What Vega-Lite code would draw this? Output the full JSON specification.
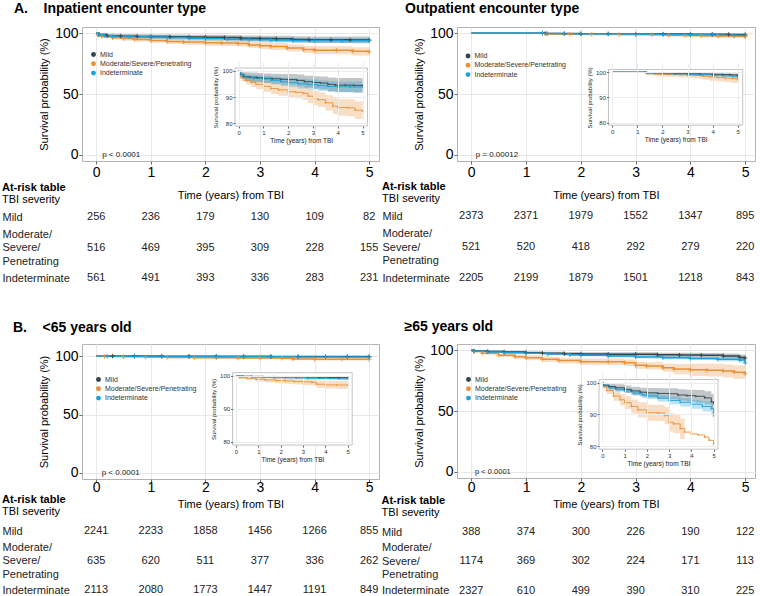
{
"$schema":"https://vega.github.io/schema/vega-lite/v6.json",
"background":"white",
"padding":{"left":2,"top":1,"right":0,"bottom":0},
"config":{"font":"Liberation Sans","view":{"stroke":"#b3b3b3","strokeWidth":1},
"axis":{"domain":false,"labelColor":"black","titleColor":"black","tickColor":"#666","labelFlush":false,"labelOverlap":false,"titleFontWeight":"normal"},
"title":{"color":"black"}},
"datasets":{
"km":[
{"p":"A","g":"Mild","t":0,"s":100,"lo":100,"hi":100},
{"p":"A","g":"Mild","t":0.05,"s":98.6,"lo":97.2,"hi":100},
{"p":"A","g":"Mild","t":0.2,"s":97.7,"lo":96.0,"hi":99.4},
{"p":"A","g":"Mild","t":0.45,"s":97.5,"lo":95.7,"hi":99.3},
{"p":"A","g":"Mild","t":0.75,"s":97.3,"lo":95.5,"hi":99.1},
{"p":"A","g":"Mild","t":1.0,"s":97.1,"lo":95.3,"hi":98.9},
{"p":"A","g":"Mild","t":1.35,"s":96.9,"lo":95.0,"hi":98.8},
{"p":"A","g":"Mild","t":1.7,"s":96.7,"lo":94.7,"hi":98.7},
{"p":"A","g":"Mild","t":2.0,"s":96.6,"lo":94.5,"hi":98.7},
{"p":"A","g":"Mild","t":2.35,"s":96.3,"lo":94.1,"hi":98.5},
{"p":"A","g":"Mild","t":2.65,"s":95.8,"lo":93.5,"hi":98.1},
{"p":"A","g":"Mild","t":3.0,"s":95.5,"lo":93.1,"hi":97.9},
{"p":"A","g":"Mild","t":3.3,"s":95.3,"lo":92.8,"hi":97.8},
{"p":"A","g":"Mild","t":3.6,"s":94.8,"lo":92.2,"hi":97.4},
{"p":"A","g":"Mild","t":3.9,"s":94.5,"lo":91.8,"hi":97.2},
{"p":"A","g":"Mild","t":4.3,"s":94.5,"lo":91.8,"hi":97.2},
{"p":"A","g":"Mild","t":4.65,"s":94.4,"lo":91.6,"hi":97.2},
{"p":"A","g":"Mild","t":5.0,"s":94.4,"lo":91.5,"hi":97.3},
{"p":"A","g":"Mod","t":0,"s":100,"lo":100,"hi":100},
{"p":"A","g":"Mod","t":0.03,"s":98.5,"lo":97.5,"hi":99.5},
{"p":"A","g":"Mod","t":0.1,"s":97.3,"lo":96.0,"hi":98.6},
{"p":"A","g":"Mod","t":0.3,"s":96.2,"lo":94.7,"hi":97.7},
{"p":"A","g":"Mod","t":0.5,"s":95.5,"lo":93.8,"hi":97.2},
{"p":"A","g":"Mod","t":0.7,"s":94.8,"lo":93.0,"hi":96.6},
{"p":"A","g":"Mod","t":1.0,"s":94.0,"lo":92.0,"hi":96.0},
{"p":"A","g":"Mod","t":1.3,"s":93.2,"lo":91.1,"hi":95.3},
{"p":"A","g":"Mod","t":1.6,"s":92.7,"lo":90.5,"hi":94.9},
{"p":"A","g":"Mod","t":2.0,"s":92.0,"lo":89.7,"hi":94.3},
{"p":"A","g":"Mod","t":2.3,"s":91.8,"lo":89.4,"hi":94.2},
{"p":"A","g":"Mod","t":2.6,"s":91.4,"lo":88.9,"hi":93.9},
{"p":"A","g":"Mod","t":2.8,"s":90.3,"lo":87.7,"hi":92.9},
{"p":"A","g":"Mod","t":3.0,"s":89.7,"lo":87.0,"hi":92.4},
{"p":"A","g":"Mod","t":3.2,"s":89.0,"lo":86.2,"hi":91.8},
{"p":"A","g":"Mod","t":3.5,"s":87.8,"lo":84.9,"hi":90.7},
{"p":"A","g":"Mod","t":3.8,"s":86.5,"lo":83.5,"hi":89.5},
{"p":"A","g":"Mod","t":4.0,"s":86.0,"lo":82.9,"hi":89.1},
{"p":"A","g":"Mod","t":4.4,"s":85.9,"lo":82.7,"hi":89.1},
{"p":"A","g":"Mod","t":4.7,"s":85.0,"lo":81.7,"hi":88.3},
{"p":"A","g":"Mod","t":5.0,"s":84.6,"lo":81.6,"hi":88.1},
{"p":"A","g":"Indeterminate","t":0,"s":100,"lo":100,"hi":100},
{"p":"A","g":"Indeterminate","t":0.05,"s":98.8,"lo":97.9,"hi":99.7},
{"p":"A","g":"Indeterminate","t":0.15,"s":97.9,"lo":96.8,"hi":99.0},
{"p":"A","g":"Indeterminate","t":0.3,"s":97.3,"lo":96.1,"hi":98.5},
{"p":"A","g":"Indeterminate","t":0.6,"s":97.0,"lo":95.7,"hi":98.3},
{"p":"A","g":"Indeterminate","t":1.0,"s":96.8,"lo":95.4,"hi":98.2},
{"p":"A","g":"Indeterminate","t":1.3,"s":96.3,"lo":94.8,"hi":97.8},
{"p":"A","g":"Indeterminate","t":1.7,"s":95.8,"lo":94.2,"hi":97.4},
{"p":"A","g":"Indeterminate","t":2.0,"s":95.5,"lo":93.8,"hi":97.2},
{"p":"A","g":"Indeterminate","t":2.4,"s":95.0,"lo":93.2,"hi":96.8},
{"p":"A","g":"Indeterminate","t":2.8,"s":94.7,"lo":92.8,"hi":96.6},
{"p":"A","g":"Indeterminate","t":3.2,"s":94.3,"lo":92.3,"hi":96.3},
{"p":"A","g":"Indeterminate","t":3.6,"s":94.0,"lo":92.0,"hi":96.0},
{"p":"A","g":"Indeterminate","t":4.0,"s":93.9,"lo":91.9,"hi":95.9},
{"p":"A","g":"Indeterminate","t":4.5,"s":93.8,"lo":91.8,"hi":95.9},
{"p":"A","g":"Indeterminate","t":5.0,"s":93.8,"lo":91.7,"hi":95.9},
{"p":"O","g":"Mild","t":0,"s":100,"lo":100,"hi":100},
{"p":"O","g":"Mild","t":1.3,"s":100,"lo":100,"hi":100},
{"p":"O","g":"Mild","t":1.35,"s":99.7,"lo":99.5,"hi":99.9},
{"p":"O","g":"Mild","t":1.7,"s":99.6,"lo":99.4,"hi":99.8},
{"p":"O","g":"Mild","t":2.0,"s":99.5,"lo":99.3,"hi":99.7},
{"p":"O","g":"Mild","t":2.5,"s":99.4,"lo":99.1,"hi":99.7},
{"p":"O","g":"Mild","t":3.0,"s":99.3,"lo":99.0,"hi":99.6},
{"p":"O","g":"Mild","t":3.5,"s":99.2,"lo":98.8,"hi":99.6},
{"p":"O","g":"Mild","t":4.0,"s":99.1,"lo":98.7,"hi":99.5},
{"p":"O","g":"Mild","t":4.4,"s":99.0,"lo":98.5,"hi":99.5},
{"p":"O","g":"Mild","t":4.7,"s":98.9,"lo":98.4,"hi":99.4},
{"p":"O","g":"Mild","t":5.0,"s":98.7,"lo":98.1,"hi":99.3},
{"p":"O","g":"Mod","t":0,"s":100,"lo":100,"hi":100},
{"p":"O","g":"Mod","t":1.3,"s":100,"lo":100,"hi":100},
{"p":"O","g":"Mod","t":1.4,"s":99.3,"lo":98.6,"hi":100},
{"p":"O","g":"Mod","t":1.8,"s":99.1,"lo":98.3,"hi":99.9},
{"p":"O","g":"Mod","t":2.2,"s":99.0,"lo":98.1,"hi":99.9},
{"p":"O","g":"Mod","t":2.7,"s":98.9,"lo":97.9,"hi":99.9},
{"p":"O","g":"Mod","t":3.0,"s":98.8,"lo":97.7,"hi":99.9},
{"p":"O","g":"Mod","t":3.3,"s":98.6,"lo":97.4,"hi":99.8},
{"p":"O","g":"Mod","t":3.6,"s":98.3,"lo":97.0,"hi":99.6},
{"p":"O","g":"Mod","t":3.9,"s":98.0,"lo":96.6,"hi":99.4},
{"p":"O","g":"Mod","t":4.2,"s":97.8,"lo":96.3,"hi":99.3},
{"p":"O","g":"Mod","t":4.5,"s":97.6,"lo":96.0,"hi":99.2},
{"p":"O","g":"Mod","t":4.8,"s":97.4,"lo":95.7,"hi":99.1},
{"p":"O","g":"Mod","t":5.0,"s":97.0,"lo":95.1,"hi":98.9},
{"p":"O","g":"Indeterminate","t":0,"s":100,"lo":100,"hi":100},
{"p":"O","g":"Indeterminate","t":1.3,"s":100,"lo":100,"hi":100},
{"p":"O","g":"Indeterminate","t":1.38,"s":99.6,"lo":99.3,"hi":99.9},
{"p":"O","g":"Indeterminate","t":1.7,"s":99.4,"lo":99.1,"hi":99.7},
{"p":"O","g":"Indeterminate","t":2.0,"s":99.3,"lo":99.0,"hi":99.6},
{"p":"O","g":"Indeterminate","t":2.5,"s":99.2,"lo":98.9,"hi":99.5},
{"p":"O","g":"Indeterminate","t":3.0,"s":99.0,"lo":98.6,"hi":99.4},
{"p":"O","g":"Indeterminate","t":3.5,"s":98.9,"lo":98.5,"hi":99.3},
{"p":"O","g":"Indeterminate","t":4.0,"s":98.7,"lo":98.2,"hi":99.2},
{"p":"O","g":"Indeterminate","t":4.4,"s":98.5,"lo":97.9,"hi":99.1},
{"p":"O","g":"Indeterminate","t":4.8,"s":98.3,"lo":97.6,"hi":99.0},
{"p":"O","g":"Indeterminate","t":5.0,"s":98.0,"lo":97.2,"hi":98.8},
{"p":"Y","g":"Mild","t":0,"s":100,"lo":100,"hi":100},
{"p":"Y","g":"Mild","t":0.3,"s":99.95,"lo":99.85,"hi":100},
{"p":"Y","g":"Mild","t":0.7,"s":99.9,"lo":99.75,"hi":100},
{"p":"Y","g":"Mild","t":1.2,"s":99.85,"lo":99.7,"hi":100},
{"p":"Y","g":"Mild","t":1.7,"s":99.8,"lo":99.6,"hi":100},
{"p":"Y","g":"Mild","t":2.2,"s":99.75,"lo":99.5,"hi":100},
{"p":"Y","g":"Mild","t":2.7,"s":99.7,"lo":99.45,"hi":99.95},
{"p":"Y","g":"Mild","t":3.2,"s":99.65,"lo":99.4,"hi":99.9},
{"p":"Y","g":"Mild","t":3.7,"s":99.6,"lo":99.3,"hi":99.9},
{"p":"Y","g":"Mild","t":4.2,"s":99.55,"lo":99.2,"hi":99.9},
{"p":"Y","g":"Mild","t":4.6,"s":99.5,"lo":99.1,"hi":99.9},
{"p":"Y","g":"Mild","t":5.0,"s":99.5,"lo":99.1,"hi":99.9},
{"p":"Y","g":"Mod","t":0,"s":100,"lo":100,"hi":100},
{"p":"Y","g":"Mod","t":0.15,"s":99.5,"lo":99.0,"hi":100},
{"p":"Y","g":"Mod","t":0.5,"s":99.3,"lo":98.7,"hi":99.9},
{"p":"Y","g":"Mod","t":0.9,"s":99.0,"lo":98.3,"hi":99.7},
{"p":"Y","g":"Mod","t":1.3,"s":98.8,"lo":98.0,"hi":99.6},
{"p":"Y","g":"Mod","t":1.8,"s":98.6,"lo":97.8,"hi":99.4},
{"p":"Y","g":"Mod","t":2.2,"s":98.5,"lo":97.6,"hi":99.4},
{"p":"Y","g":"Mod","t":2.6,"s":98.3,"lo":97.4,"hi":99.2},
{"p":"Y","g":"Mod","t":3.0,"s":98.2,"lo":97.2,"hi":99.2},
{"p":"Y","g":"Mod","t":3.4,"s":98.1,"lo":97.1,"hi":99.1},
{"p":"Y","g":"Mod","t":3.6,"s":97.5,"lo":96.4,"hi":98.6},
{"p":"Y","g":"Mod","t":4.0,"s":97.3,"lo":96.2,"hi":98.4},
{"p":"Y","g":"Mod","t":4.5,"s":97.25,"lo":96.1,"hi":98.4},
{"p":"Y","g":"Mod","t":5.0,"s":97.2,"lo":96.0,"hi":98.4},
{"p":"Y","g":"Indeterminate","t":0,"s":100,"lo":100,"hi":100},
{"p":"Y","g":"Indeterminate","t":0.2,"s":99.85,"lo":99.7,"hi":100},
{"p":"Y","g":"Indeterminate","t":0.7,"s":99.7,"lo":99.5,"hi":99.9},
{"p":"Y","g":"Indeterminate","t":1.2,"s":99.6,"lo":99.4,"hi":99.8},
{"p":"Y","g":"Indeterminate","t":1.7,"s":99.5,"lo":99.25,"hi":99.75},
{"p":"Y","g":"Indeterminate","t":2.2,"s":99.45,"lo":99.2,"hi":99.7},
{"p":"Y","g":"Indeterminate","t":2.7,"s":99.4,"lo":99.1,"hi":99.7},
{"p":"Y","g":"Indeterminate","t":3.2,"s":99.3,"lo":99.0,"hi":99.6},
{"p":"Y","g":"Indeterminate","t":3.7,"s":99.25,"lo":98.9,"hi":99.6},
{"p":"Y","g":"Indeterminate","t":4.2,"s":99.2,"lo":98.85,"hi":99.55},
{"p":"Y","g":"Indeterminate","t":4.6,"s":99.15,"lo":98.8,"hi":99.5},
{"p":"Y","g":"Indeterminate","t":5.0,"s":99.1,"lo":98.7,"hi":99.5},
{"p":"E","g":"Mild","t":0,"s":100,"lo":100,"hi":100},
{"p":"E","g":"Mild","t":0.05,"s":99.2,"lo":98.5,"hi":99.9},
{"p":"E","g":"Mild","t":0.3,"s":98.8,"lo":97.8,"hi":99.8},
{"p":"E","g":"Mild","t":0.6,"s":98.4,"lo":97.3,"hi":99.5},
{"p":"E","g":"Mild","t":1.0,"s":97.9,"lo":96.7,"hi":99.1},
{"p":"E","g":"Mild","t":1.3,"s":97.4,"lo":96.1,"hi":98.7},
{"p":"E","g":"Mild","t":1.7,"s":97.0,"lo":95.6,"hi":98.4},
{"p":"E","g":"Mild","t":2.0,"s":96.8,"lo":95.3,"hi":98.3},
{"p":"E","g":"Mild","t":2.5,"s":96.6,"lo":95.0,"hi":98.2},
{"p":"E","g":"Mild","t":3.0,"s":96.5,"lo":94.8,"hi":98.2},
{"p":"E","g":"Mild","t":3.4,"s":96.1,"lo":94.3,"hi":97.9},
{"p":"E","g":"Mild","t":3.8,"s":95.9,"lo":94.0,"hi":97.8},
{"p":"E","g":"Mild","t":4.2,"s":95.7,"lo":93.7,"hi":97.7},
{"p":"E","g":"Mild","t":4.6,"s":95.2,"lo":93.1,"hi":97.3},
{"p":"E","g":"Mild","t":4.9,"s":94.0,"lo":91.6,"hi":96.4},
{"p":"E","g":"Mild","t":5.0,"s":93.5,"lo":90.8,"hi":96.2},
{"p":"E","g":"Mod","t":0,"s":100,"lo":100,"hi":100},
{"p":"E","g":"Mod","t":0.05,"s":98.8,"lo":98.1,"hi":99.5},
{"p":"E","g":"Mod","t":0.2,"s":97.5,"lo":96.4,"hi":98.6},
{"p":"E","g":"Mod","t":0.5,"s":95.8,"lo":94.3,"hi":97.3},
{"p":"E","g":"Mod","t":0.8,"s":94.6,"lo":92.8,"hi":96.4},
{"p":"E","g":"Mod","t":1.0,"s":93.7,"lo":91.7,"hi":95.7},
{"p":"E","g":"Mod","t":1.3,"s":92.5,"lo":90.3,"hi":94.7},
{"p":"E","g":"Mod","t":1.6,"s":91.4,"lo":89.0,"hi":93.8},
{"p":"E","g":"Mod","t":2.0,"s":90.5,"lo":88.0,"hi":93.0},
{"p":"E","g":"Mod","t":2.5,"s":90.4,"lo":87.8,"hi":93.0},
{"p":"E","g":"Mod","t":2.8,"s":89.6,"lo":86.9,"hi":92.3},
{"p":"E","g":"Mod","t":3.0,"s":87.5,"lo":84.6,"hi":90.4},
{"p":"E","g":"Mod","t":3.2,"s":87.0,"lo":84.0,"hi":90.0},
{"p":"E","g":"Mod","t":3.5,"s":85.5,"lo":82.3,"hi":88.7},
{"p":"E","g":"Mod","t":3.7,"s":84.4,"lo":80.2,"hi":88.6},
{"p":"E","g":"Mod","t":4.0,"s":83.8,"lo":78.8,"hi":88.8},
{"p":"E","g":"Mod","t":4.3,"s":83.5,"lo":78.3,"hi":88.7},
{"p":"E","g":"Mod","t":4.6,"s":82.8,"lo":77.4,"hi":88.2},
{"p":"E","g":"Mod","t":4.8,"s":81.8,"lo":76.2,"hi":87.4},
{"p":"E","g":"Mod","t":5.0,"s":80.6,"lo":75.0,"hi":86.2},
{"p":"E","g":"Indeterminate","t":0,"s":100,"lo":100,"hi":100},
{"p":"E","g":"Indeterminate","t":0.05,"s":99.0,"lo":98.6,"hi":99.4},
{"p":"E","g":"Indeterminate","t":0.3,"s":98.4,"lo":97.9,"hi":98.9},
{"p":"E","g":"Indeterminate","t":0.6,"s":97.9,"lo":97.3,"hi":98.5},
{"p":"E","g":"Indeterminate","t":1.0,"s":97.4,"lo":96.7,"hi":98.1},
{"p":"E","g":"Indeterminate","t":1.4,"s":96.7,"lo":95.9,"hi":97.5},
{"p":"E","g":"Indeterminate","t":1.8,"s":96.1,"lo":95.2,"hi":97.0},
{"p":"E","g":"Indeterminate","t":2.0,"s":95.8,"lo":94.8,"hi":96.8},
{"p":"E","g":"Indeterminate","t":2.5,"s":95.1,"lo":94.0,"hi":96.2},
{"p":"E","g":"Indeterminate","t":3.0,"s":94.4,"lo":93.2,"hi":95.6},
{"p":"E","g":"Indeterminate","t":3.5,"s":93.8,"lo":92.5,"hi":95.1},
{"p":"E","g":"Indeterminate","t":4.0,"s":93.2,"lo":91.8,"hi":94.6},
{"p":"E","g":"Indeterminate","t":4.5,"s":92.5,"lo":90.9,"hi":94.1},
{"p":"E","g":"Indeterminate","t":4.9,"s":91.8,"lo":90.0,"hi":93.6},
{"p":"E","g":"Indeterminate","t":5.0,"s":89.5,"lo":86.5,"hi":92.5}
],
"risk":[
{"p":"A","g":"Mild","t":0,"n":256},{"p":"A","g":"Mild","t":1,"n":236},{"p":"A","g":"Mild","t":2,"n":179},{"p":"A","g":"Mild","t":3,"n":130},{"p":"A","g":"Mild","t":4,"n":109},{"p":"A","g":"Mild","t":5,"n":82},
{"p":"A","g":"Mod","t":0,"n":516},{"p":"A","g":"Mod","t":1,"n":469},{"p":"A","g":"Mod","t":2,"n":395},{"p":"A","g":"Mod","t":3,"n":309},{"p":"A","g":"Mod","t":4,"n":228},{"p":"A","g":"Mod","t":5,"n":155},
{"p":"A","g":"Indeterminate","t":0,"n":561},{"p":"A","g":"Indeterminate","t":1,"n":491},{"p":"A","g":"Indeterminate","t":2,"n":393},{"p":"A","g":"Indeterminate","t":3,"n":336},{"p":"A","g":"Indeterminate","t":4,"n":283},{"p":"A","g":"Indeterminate","t":5,"n":231},
{"p":"O","g":"Mild","t":0,"n":2373},{"p":"O","g":"Mild","t":1,"n":2371},{"p":"O","g":"Mild","t":2,"n":1979},{"p":"O","g":"Mild","t":3,"n":1552},{"p":"O","g":"Mild","t":4,"n":1347},{"p":"O","g":"Mild","t":5,"n":895},
{"p":"O","g":"Mod","t":0,"n":521},{"p":"O","g":"Mod","t":1,"n":520},{"p":"O","g":"Mod","t":2,"n":418},{"p":"O","g":"Mod","t":3,"n":292},{"p":"O","g":"Mod","t":4,"n":279},{"p":"O","g":"Mod","t":5,"n":220},
{"p":"O","g":"Indeterminate","t":0,"n":2205},{"p":"O","g":"Indeterminate","t":1,"n":2199},{"p":"O","g":"Indeterminate","t":2,"n":1879},{"p":"O","g":"Indeterminate","t":3,"n":1501},{"p":"O","g":"Indeterminate","t":4,"n":1218},{"p":"O","g":"Indeterminate","t":5,"n":843},
{"p":"Y","g":"Mild","t":0,"n":2241},{"p":"Y","g":"Mild","t":1,"n":2233},{"p":"Y","g":"Mild","t":2,"n":1858},{"p":"Y","g":"Mild","t":3,"n":1456},{"p":"Y","g":"Mild","t":4,"n":1266},{"p":"Y","g":"Mild","t":5,"n":855},
{"p":"Y","g":"Mod","t":0,"n":635},{"p":"Y","g":"Mod","t":1,"n":620},{"p":"Y","g":"Mod","t":2,"n":511},{"p":"Y","g":"Mod","t":3,"n":377},{"p":"Y","g":"Mod","t":4,"n":336},{"p":"Y","g":"Mod","t":5,"n":262},
{"p":"Y","g":"Indeterminate","t":0,"n":2113},{"p":"Y","g":"Indeterminate","t":1,"n":2080},{"p":"Y","g":"Indeterminate","t":2,"n":1773},{"p":"Y","g":"Indeterminate","t":3,"n":1447},{"p":"Y","g":"Indeterminate","t":4,"n":1191},{"p":"Y","g":"Indeterminate","t":5,"n":849},
{"p":"E","g":"Mild","t":0,"n":388},{"p":"E","g":"Mild","t":1,"n":374},{"p":"E","g":"Mild","t":2,"n":300},{"p":"E","g":"Mild","t":3,"n":226},{"p":"E","g":"Mild","t":4,"n":190},{"p":"E","g":"Mild","t":5,"n":122},
{"p":"E","g":"Mod","t":0,"n":1174},{"p":"E","g":"Mod","t":1,"n":369},{"p":"E","g":"Mod","t":2,"n":302},{"p":"E","g":"Mod","t":3,"n":224},{"p":"E","g":"Mod","t":4,"n":171},{"p":"E","g":"Mod","t":5,"n":113},
{"p":"E","g":"Indeterminate","t":0,"n":2327},{"p":"E","g":"Indeterminate","t":1,"n":610},{"p":"E","g":"Indeterminate","t":2,"n":499},{"p":"E","g":"Indeterminate","t":3,"n":390},{"p":"E","g":"Indeterminate","t":4,"n":310},{"p":"E","g":"Indeterminate","t":5,"n":225}
]},
"columns":2,
"bounds":"flush",
"align":"each",
"spacing":{"row":52,"column":78},
"resolve":{"scale":{"fill":"independent","stroke":"independent"},"legend":{"fill":"independent","stroke":"independent"}},
"concat":[
  {"width":297,"height":134,
   "title":{"text":"A.\u00a0\u00a0\u00a0\u00a0Inpatient encounter type","anchor":"start","frame":"group","dx":-68,"offset":10,"fontSize":14,"fontWeight":"bold"},
   "layer":[
    {"data":{"name":"km"},"transform":[{"filter":"datum.p == 'A'"}],
     "layer":[
      {"mark":{"type":"area","interpolate":"step-after","fillOpacity":0.3},
       "encoding":{
        "x":{"field":"t","type":"quantitative","title":"Time (years) from TBI","scale":{"domain":[-0.26,5.18],"nice":false,"zero":false},
             "axis":{"values":[0,0.5,1,1.5,2,2.5,3,3.5,4,4.5,5],"labelExpr":"datum.value % 1 == 0 ? datum.label : ''","format":"d","grid":true,"gridColor":{"condition":{"test":"datum.value % 1 != 0","value":"#f4f4f4"},"value":"#e8e8e8"},"tickOpacity":{"condition":{"test":"datum.value % 1 != 0","value":0},"value":1},"tickSize":3,"labelFontSize":14,"labelPadding":1,"titleFontSize":11,"titlePadding":10}},
        "y":{"field":"lo","type":"quantitative","title":"Survival probability (%)","scale":{"domain":[-5,105],"nice":false,"zero":false},
             "axis":{"values":[0,12.5,25,37.5,50,62.5,75,87.5,100],"labelExpr":"datum.value % 25 == 0 ? datum.label : ''","format":"d","grid":true,"gridColor":{"condition":{"test":"datum.value % 25 != 0","value":"#f4f4f4"},"value":"#e8e8e8"},"tickOpacity":{"condition":{"test":"datum.value % 25 != 0","value":0},"value":1},"tickSize":3,"labelFontSize":14,"labelPadding":1,"titleFontSize":11,"titlePadding":5}},
        "y2":{"field":"hi"},
        "fill":{"field":"g","type":"nominal","scale":{"domain":["Mild","Mod","Indeterminate"],"range":["#34434c","#e8913b","#1ba1db"]},
                "legend":{"orient":"none","legendX":8,"legendY":24,"title":null,"symbolType":"circle","symbolSize":24,"symbolOpacity":1,"symbolStrokeWidth":0,"labelFontSize":7,"labelColor":"#333","rowPadding":1.3,"labelOffset":3,"padding":0,"labelExpr":"datum.label == 'Mod' ? 'Moderate/Severe/Penetrating' : datum.label"}}}},
      {"mark":{"type":"line","interpolate":"step-after","strokeWidth":1.5},
       "encoding":{"x":{"field":"t","type":"quantitative","title":"Time (years) from TBI","scale":{"domain":[-0.26,5.18],"nice":false,"zero":false}},
        "y":{"field":"s","type":"quantitative","title":"Survival probability (%)","scale":{"domain":[-5,105],"nice":false,"zero":false}},
        "stroke":{"field":"g","type":"nominal","scale":{"domain":["Mild","Mod","Indeterminate"],"range":["#34434c","#e8913b","#1ba1db"]},"legend":null}}},
      {"transform":[{"filter":"datum.t > 0"}],"mark":{"type":"point","shape":"M-1,0L1,0M0,-1L0,1","filled":false,"size":20,"strokeWidth":0.9,"opacity":1},
       "encoding":{"x":{"field":"t","type":"quantitative","title":"Time (years) from TBI"},"y":{"field":"s","type":"quantitative","title":"Survival probability (%)"},"stroke":{"field":"g","type":"nominal","legend":null}}},
      {"data":{"values":[{"lab":"p < 0.0001"}]},"mark":{"type":"text","align":"left","baseline":"middle","fontSize":8,"color":"#222"},
       "encoding":{"x":{"datum":0.11},"y":{"datum":0},"text":{"field":"lab"}}}
     ]},
    {"data":{"name":"km"},"transform":[{"filter":"datum.p == 'A'"}],
     "layer":[
      {"data":{"values":[{}]},"mark":{"type":"rect","fill":"white","stroke":"#b3b3b3","strokeWidth":0.8},
       "encoding":{"x":{"datum":-0.15,"scale":{"domain":[-0.15,5.2],"nice":false,"zero":false,"range":[153,285.5]},
          "axis":{"orient":"bottom","offset":-35,"title":"Time (years) from TBI","values":[0,1,2,3,4,5],"format":"d","grid":true,"gridColor":"#ececec","tickSize":2,"labelFontSize":6,"labelPadding":1,"titleFontSize":6.5,"titlePadding":2,"zindex":1,"labelColor":"#333","titleColor":"#222"}},
        "x2":{"datum":5.2},
        "y":{"datum":79,"scale":{"domain":[79,101],"nice":false,"zero":false,"range":[99,41]},
          "axis":{"orient":"left","offset":-153,"title":"Survival probability (%)","values":[80,85,90,95,100],"format":"d","grid":true,"gridColor":"#ececec","tickSize":2,"labelFontSize":6,"labelPadding":1,"titleFontSize":6,"titlePadding":3,"zindex":1,"labelColor":"#333","titleColor":"#222"}},
        "y2":{"datum":101}}},
      {"transform":[{"filter":"datum.lo >= 79"}],"mark":{"type":"area","interpolate":"step-after","fillOpacity":0.3},
       "encoding":{"x":{"field":"t","type":"quantitative","title":"Time (years) from TBI"},"y":{"field":"lo","type":"quantitative","title":"Survival probability (%)"},"y2":{"field":"hi"},"fill":{"field":"g","type":"nominal","legend":null}}},
      {"mark":{"type":"line","interpolate":"step-after","strokeWidth":0.9},
       "encoding":{"x":{"field":"t","type":"quantitative","title":"Time (years) from TBI"},"y":{"field":"s","type":"quantitative","title":"Survival probability (%)"},"stroke":{"field":"g","type":"nominal","legend":null}}},
      {"transform":[{"filter":"datum.t > 0"}],"mark":{"type":"point","shape":"M-1,0L1,0M0,-1L0,1","filled":false,"size":5,"strokeWidth":0.5,"opacity":1},
       "encoding":{"x":{"field":"t","type":"quantitative","title":"Time (years) from TBI"},"y":{"field":"s","type":"quantitative","title":"Survival probability (%)"},"stroke":{"field":"g","type":"nominal","legend":null}}}
     ]}
   ],
   "resolve":{"scale":{"x":"independent","y":"independent"},"axis":{"x":"independent","y":"independent"}}},
  {"width":298,"height":134,
   "title":{"text":"Outpatient encounter type","anchor":"start","frame":"group","dx":-52,"offset":10,"fontSize":14,"fontWeight":"bold"},
   "layer":[
    {"data":{"name":"km"},"transform":[{"filter":"datum.p == 'O'"}],
     "layer":[
      {"mark":{"type":"area","interpolate":"step-after","fillOpacity":0.3},
       "encoding":{
        "x":{"field":"t","type":"quantitative","title":"Time (years) from TBI","scale":{"domain":[-0.26,5.18],"nice":false,"zero":false},
             "axis":{"values":[0,0.5,1,1.5,2,2.5,3,3.5,4,4.5,5],"labelExpr":"datum.value % 1 == 0 ? datum.label : ''","format":"d","grid":true,"gridColor":{"condition":{"test":"datum.value % 1 != 0","value":"#f4f4f4"},"value":"#e8e8e8"},"tickOpacity":{"condition":{"test":"datum.value % 1 != 0","value":0},"value":1},"tickSize":3,"labelFontSize":14,"labelPadding":1,"titleFontSize":11,"titlePadding":10}},
        "y":{"field":"lo","type":"quantitative","title":"Survival probability (%)","scale":{"domain":[-5,105],"nice":false,"zero":false},
             "axis":{"values":[0,12.5,25,37.5,50,62.5,75,87.5,100],"labelExpr":"datum.value % 25 == 0 ? datum.label : ''","format":"d","grid":true,"gridColor":{"condition":{"test":"datum.value % 25 != 0","value":"#f4f4f4"},"value":"#e8e8e8"},"tickOpacity":{"condition":{"test":"datum.value % 25 != 0","value":0},"value":1},"tickSize":3,"labelFontSize":14,"labelPadding":1,"titleFontSize":11,"titlePadding":5}},
        "y2":{"field":"hi"},
        "fill":{"field":"g","type":"nominal","scale":{"domain":["Mild","Mod","Indeterminate"],"range":["#34434c","#e8913b","#1ba1db"]},
                "legend":{"orient":"none","legendX":7.5,"legendY":25.5,"title":null,"symbolType":"circle","symbolSize":24,"symbolOpacity":1,"symbolStrokeWidth":0,"labelFontSize":7,"labelColor":"#333","rowPadding":1.3,"labelOffset":3,"padding":0,"labelExpr":"datum.label == 'Mod' ? 'Moderate/Severe/Penetrating' : datum.label"}}}},
      {"mark":{"type":"line","interpolate":"step-after","strokeWidth":1.5},
       "encoding":{"x":{"field":"t","type":"quantitative","title":"Time (years) from TBI","scale":{"domain":[-0.26,5.18],"nice":false,"zero":false}},
        "y":{"field":"s","type":"quantitative","title":"Survival probability (%)","scale":{"domain":[-5,105],"nice":false,"zero":false}},
        "stroke":{"field":"g","type":"nominal","scale":{"domain":["Mild","Mod","Indeterminate"],"range":["#34434c","#e8913b","#1ba1db"]},"legend":null}}},
      {"transform":[{"filter":"datum.t > 0"}],"mark":{"type":"point","shape":"M-1,0L1,0M0,-1L0,1","filled":false,"size":20,"strokeWidth":0.9,"opacity":1},
       "encoding":{"x":{"field":"t","type":"quantitative","title":"Time (years) from TBI"},"y":{"field":"s","type":"quantitative","title":"Survival probability (%)"},"stroke":{"field":"g","type":"nominal","legend":null}}},
      {"data":{"values":[{"lab":"p = 0.00012"}]},"mark":{"type":"text","align":"left","baseline":"middle","fontSize":8,"color":"#222"},
       "encoding":{"x":{"datum":0.08},"y":{"datum":0},"text":{"field":"lab"}}}
     ]},
    {"data":{"name":"km"},"transform":[{"filter":"datum.p == 'O'"}],
     "layer":[
      {"data":{"values":[{}]},"mark":{"type":"rect","fill":"white","stroke":"#b3b3b3","strokeWidth":0.8},
       "encoding":{"x":{"datum":-0.15,"scale":{"domain":[-0.15,5.2],"nice":false,"zero":false,"range":[151.5,285.7]},
          "axis":{"orient":"bottom","offset":-35.8,"title":"Time (years) from TBI","values":[0,1,2,3,4,5],"format":"d","grid":true,"gridColor":"#ececec","tickSize":2,"labelFontSize":6,"labelPadding":1,"titleFontSize":6.5,"titlePadding":2,"zindex":1,"labelColor":"#333","titleColor":"#222"}},
        "x2":{"datum":5.2},
        "y":{"datum":79,"scale":{"domain":[79,101],"nice":false,"zero":false,"range":[98.2,42.5]},
          "axis":{"orient":"left","offset":-151.5,"title":"Survival probability (%)","values":[80,85,90,95,100],"format":"d","grid":true,"gridColor":"#ececec","tickSize":2,"labelFontSize":6,"labelPadding":1,"titleFontSize":6,"titlePadding":3,"zindex":1,"labelColor":"#333","titleColor":"#222"}},
        "y2":{"datum":101}}},
      {"transform":[{"filter":"datum.lo >= 79"}],"mark":{"type":"area","interpolate":"step-after","fillOpacity":0.3},
       "encoding":{"x":{"field":"t","type":"quantitative","title":"Time (years) from TBI"},"y":{"field":"lo","type":"quantitative","title":"Survival probability (%)"},"y2":{"field":"hi"},"fill":{"field":"g","type":"nominal","legend":null}}},
      {"mark":{"type":"line","interpolate":"step-after","strokeWidth":0.9},
       "encoding":{"x":{"field":"t","type":"quantitative","title":"Time (years) from TBI"},"y":{"field":"s","type":"quantitative","title":"Survival probability (%)"},"stroke":{"field":"g","type":"nominal","legend":null}}},
      {"transform":[{"filter":"datum.t > 0"}],"mark":{"type":"point","shape":"M-1,0L1,0M0,-1L0,1","filled":false,"size":5,"strokeWidth":0.5,"opacity":1},
       "encoding":{"x":{"field":"t","type":"quantitative","title":"Time (years) from TBI"},"y":{"field":"s","type":"quantitative","title":"Survival probability (%)"},"stroke":{"field":"g","type":"nominal","legend":null}}}
     ]}
   ],
   "resolve":{"scale":{"x":"independent","y":"independent"},"axis":{"x":"independent","y":"independent"}}},
  {"width":297,"height":79,"view":{"stroke":null},
   "data":{"name":"risk"},"transform":[{"filter":"datum.p == 'A'"}],
   "title":{"text":"At-risk table","subtitle":"TBI severity","anchor":"start","frame":"group","dx":-80,"offset":6,"fontSize":11,"fontWeight":"bold","subtitleFontSize":11,"subtitleFontWeight":"normal","subtitleColor":"black","subtitlePadding":1},
   "mark":{"type":"text","fontSize":11,"color":"#222"},
   "encoding":{"x":{"field":"t","type":"quantitative","scale":{"domain":[-0.26,5.18],"nice":false,"zero":false},"axis":null},
    "y":{"field":"g","type":"nominal","scale":{"domain":["Mild","Mod","Indeterminate"],"padding":0,"range":[4,65]},
     "axis":{"title":null,"labelAlign":"left","labelPadding":80,"ticks":false,"tickSize":0,"domain":false,"grid":false,"labelFontSize":11,"labelColor":"#222","labelBaseline":"middle","labelLineHeight":13.5,"labelOffset":{"condition":{"test":"datum.value == 'Mod'","value":-13.5},"value":0},"labelExpr":"datum.label == 'Mod' ? ['Moderate/', 'Severe/', 'Penetrating'] : datum.label"}},
    "text":{"field":"n"}}},
  {"width":298,"height":79,"view":{"stroke":null},
   "data":{"name":"risk"},"transform":[{"filter":"datum.p == 'O'"}],
   "title":{"text":"At-risk table","subtitle":"TBI severity","anchor":"start","frame":"group","dx":-75,"offset":6,"fontSize":11,"fontWeight":"bold","subtitleFontSize":11,"subtitleFontWeight":"normal","subtitleColor":"black","subtitlePadding":1},
   "mark":{"type":"text","fontSize":11,"color":"#222"},
   "encoding":{"x":{"field":"t","type":"quantitative","scale":{"domain":[-0.26,5.18],"nice":false,"zero":false},"axis":null},
    "y":{"field":"g","type":"nominal","scale":{"domain":["Mild","Mod","Indeterminate"],"padding":0,"range":[3,65]},
     "axis":{"title":null,"labelAlign":"left","labelPadding":75,"ticks":false,"tickSize":0,"domain":false,"grid":false,"labelFontSize":11,"labelColor":"#222","labelBaseline":"middle","labelLineHeight":13.5,"labelOffset":{"condition":{"test":"datum.value == 'Mod'","value":-13.5},"value":0},"labelExpr":"datum.label == 'Mod' ? ['Moderate/', 'Severe/', 'Penetrating'] : datum.label"}},
    "text":{"field":"n"}}},
  {"width":297,"height":135,
   "title":{"text":"B.\u00a0\u00a0\u00a0\u00a0<65 years old","anchor":"start","frame":"group","dx":-69,"offset":9,"fontSize":14,"fontWeight":"bold"},
   "layer":[
    {"data":{"name":"km"},"transform":[{"filter":"datum.p == 'Y'"}],
     "layer":[
      {"mark":{"type":"area","interpolate":"step-after","fillOpacity":0.3},
       "encoding":{
        "x":{"field":"t","type":"quantitative","title":"Time (years) from TBI","scale":{"domain":[-0.26,5.18],"nice":false,"zero":false},
             "axis":{"values":[0,0.5,1,1.5,2,2.5,3,3.5,4,4.5,5],"labelExpr":"datum.value % 1 == 0 ? datum.label : ''","format":"d","grid":true,"gridColor":{"condition":{"test":"datum.value % 1 != 0","value":"#f4f4f4"},"value":"#e8e8e8"},"tickOpacity":{"condition":{"test":"datum.value % 1 != 0","value":0},"value":1},"tickSize":3,"labelFontSize":14,"labelPadding":-2,"titleFontSize":11,"titlePadding":4}},
        "y":{"field":"lo","type":"quantitative","title":"Survival probability (%)","scale":{"domain":[-5.13,110.26],"nice":false,"zero":false},
             "axis":{"values":[0,12.5,25,37.5,50,62.5,75,87.5,100],"labelExpr":"datum.value % 25 == 0 ? datum.label : ''","format":"d","grid":true,"gridColor":{"condition":{"test":"datum.value % 25 != 0","value":"#f4f4f4"},"value":"#e8e8e8"},"tickOpacity":{"condition":{"test":"datum.value % 25 != 0","value":0},"value":1},"tickSize":3,"labelFontSize":14,"labelPadding":1,"titleFontSize":11,"titlePadding":5}},
        "y2":{"field":"hi"},
        "fill":{"field":"g","type":"nominal","scale":{"domain":["Mild","Mod","Indeterminate"],"range":["#34434c","#e8913b","#1ba1db"]},
                "legend":{"orient":"none","legendX":13,"legendY":32,"title":null,"symbolType":"circle","symbolSize":24,"symbolOpacity":1,"symbolStrokeWidth":0,"labelFontSize":7,"labelColor":"#333","rowPadding":1.3,"labelOffset":3,"padding":0,"labelExpr":"datum.label == 'Mod' ? 'Moderate/Severe/Penetrating' : datum.label"}}}},
      {"mark":{"type":"line","interpolate":"step-after","strokeWidth":1.5},
       "encoding":{"x":{"field":"t","type":"quantitative","title":"Time (years) from TBI","scale":{"domain":[-0.26,5.18],"nice":false,"zero":false}},
        "y":{"field":"s","type":"quantitative","title":"Survival probability (%)","scale":{"domain":[-5.13,110.26],"nice":false,"zero":false}},
        "stroke":{"field":"g","type":"nominal","scale":{"domain":["Mild","Mod","Indeterminate"],"range":["#34434c","#e8913b","#1ba1db"]},"legend":null}}},
      {"transform":[{"filter":"datum.t > 0"}],"mark":{"type":"point","shape":"M-1,0L1,0M0,-1L0,1","filled":false,"size":20,"strokeWidth":0.9,"opacity":1},
       "encoding":{"x":{"field":"t","type":"quantitative","title":"Time (years) from TBI"},"y":{"field":"s","type":"quantitative","title":"Survival probability (%)"},"stroke":{"field":"g","type":"nominal","legend":null}}},
      {"data":{"values":[{"lab":"p < 0.0001"}]},"mark":{"type":"text","align":"left","baseline":"middle","fontSize":8,"color":"#222"},
       "encoding":{"x":{"datum":0.1},"y":{"datum":0},"text":{"field":"lab"}}}
     ]},
    {"data":{"name":"km"},"transform":[{"filter":"datum.p == 'Y'"}],
     "layer":[
      {"data":{"values":[{}]},"mark":{"type":"rect","fill":"white","stroke":"#b3b3b3","strokeWidth":0.8},
       "encoding":{"x":{"datum":-0.15,"scale":{"domain":[-0.15,5.2],"nice":false,"zero":false,"range":[150.6,270.2]},
          "axis":{"orient":"bottom","offset":-34,"title":"Time (years) from TBI","values":[0,1,2,3,4,5],"format":"d","grid":true,"gridColor":"#ececec","tickSize":2,"labelFontSize":6,"labelPadding":1,"titleFontSize":6.5,"titlePadding":2,"zindex":1,"labelColor":"#333","titleColor":"#222"}},
        "x2":{"datum":5.2},
        "y":{"datum":79,"scale":{"domain":[79,101],"nice":false,"zero":false,"range":[101,28.7]},
          "axis":{"orient":"left","offset":-150.6,"title":"Survival probability (%)","values":[80,85,90,95,100],"format":"d","grid":true,"gridColor":"#ececec","tickSize":2,"labelFontSize":6,"labelPadding":1,"titleFontSize":6,"titlePadding":3,"zindex":1,"labelColor":"#333","titleColor":"#222"}},
        "y2":{"datum":101}}},
      {"transform":[{"filter":"datum.lo >= 79"}],"mark":{"type":"area","interpolate":"step-after","fillOpacity":0.3},
       "encoding":{"x":{"field":"t","type":"quantitative","title":"Time (years) from TBI"},"y":{"field":"lo","type":"quantitative","title":"Survival probability (%)"},"y2":{"field":"hi"},"fill":{"field":"g","type":"nominal","legend":null}}},
      {"mark":{"type":"line","interpolate":"step-after","strokeWidth":0.9},
       "encoding":{"x":{"field":"t","type":"quantitative","title":"Time (years) from TBI"},"y":{"field":"s","type":"quantitative","title":"Survival probability (%)"},"stroke":{"field":"g","type":"nominal","legend":null}}},
      {"transform":[{"filter":"datum.t > 0"}],"mark":{"type":"point","shape":"M-1,0L1,0M0,-1L0,1","filled":false,"size":5,"strokeWidth":0.5,"opacity":1},
       "encoding":{"x":{"field":"t","type":"quantitative","title":"Time (years) from TBI"},"y":{"field":"s","type":"quantitative","title":"Survival probability (%)"},"stroke":{"field":"g","type":"nominal","legend":null}}}
     ]}
   ],
   "resolve":{"scale":{"x":"independent","y":"independent"},"axis":{"x":"independent","y":"independent"}}},
  {"width":298,"height":134,
   "title":{"text":"≥65 years old","anchor":"start","frame":"group","dx":-52.5,"offset":9,"fontSize":14,"fontWeight":"bold"},
   "layer":[
    {"data":{"name":"km"},"transform":[{"filter":"datum.p == 'E'"}],
     "layer":[
      {"mark":{"type":"area","interpolate":"step-after","fillOpacity":0.3},
       "encoding":{
        "x":{"field":"t","type":"quantitative","title":"Time (years) from TBI","scale":{"domain":[-0.26,5.18],"nice":false,"zero":false},
             "axis":{"values":[0,0.5,1,1.5,2,2.5,3,3.5,4,4.5,5],"labelExpr":"datum.value % 1 == 0 ? datum.label : ''","format":"d","grid":true,"gridColor":{"condition":{"test":"datum.value % 1 != 0","value":"#f4f4f4"},"value":"#e8e8e8"},"tickOpacity":{"condition":{"test":"datum.value % 1 != 0","value":0},"value":1},"tickSize":3,"labelFontSize":14,"labelPadding":-1,"titleFontSize":11,"titlePadding":4}},
        "y":{"field":"lo","type":"quantitative","title":"Survival probability (%)","scale":{"domain":[-5,105],"nice":false,"zero":false},
             "axis":{"values":[0,12.5,25,37.5,50,62.5,75,87.5,100],"labelExpr":"datum.value % 25 == 0 ? datum.label : ''","format":"d","grid":true,"gridColor":{"condition":{"test":"datum.value % 25 != 0","value":"#f4f4f4"},"value":"#e8e8e8"},"tickOpacity":{"condition":{"test":"datum.value % 25 != 0","value":0},"value":1},"tickSize":3,"labelFontSize":14,"labelPadding":1,"titleFontSize":11,"titlePadding":5}},
        "y2":{"field":"hi"},
        "fill":{"field":"g","type":"nominal","scale":{"domain":["Mild","Mod","Indeterminate"],"range":["#34434c","#e8913b","#1ba1db"]},
                "legend":{"orient":"none","legendX":8,"legendY":32,"title":null,"symbolType":"circle","symbolSize":24,"symbolOpacity":1,"symbolStrokeWidth":0,"labelFontSize":7,"labelColor":"#333","rowPadding":1.3,"labelOffset":3,"padding":0,"labelExpr":"datum.label == 'Mod' ? 'Moderate/Severe/Penetrating' : datum.label"}}}},
      {"mark":{"type":"line","interpolate":"step-after","strokeWidth":1.5},
       "encoding":{"x":{"field":"t","type":"quantitative","title":"Time (years) from TBI","scale":{"domain":[-0.26,5.18],"nice":false,"zero":false}},
        "y":{"field":"s","type":"quantitative","title":"Survival probability (%)","scale":{"domain":[-5,105],"nice":false,"zero":false}},
        "stroke":{"field":"g","type":"nominal","scale":{"domain":["Mild","Mod","Indeterminate"],"range":["#34434c","#e8913b","#1ba1db"]},"legend":null}}},
      {"transform":[{"filter":"datum.t > 0"}],"mark":{"type":"point","shape":"M-1,0L1,0M0,-1L0,1","filled":false,"size":20,"strokeWidth":0.9,"opacity":1},
       "encoding":{"x":{"field":"t","type":"quantitative","title":"Time (years) from TBI"},"y":{"field":"s","type":"quantitative","title":"Survival probability (%)"},"stroke":{"field":"g","type":"nominal","legend":null}}},
      {"data":{"values":[{"lab":"p < 0.0001"}]},"mark":{"type":"text","align":"left","baseline":"middle","fontSize":7.5,"color":"#222"},
       "encoding":{"x":{"datum":0.07},"y":{"datum":0},"text":{"field":"lab"}}}
     ]},
    {"data":{"name":"km"},"transform":[{"filter":"datum.p == 'E'"}],
     "layer":[
      {"data":{"values":[{}]},"mark":{"type":"rect","fill":"white","stroke":"#b3b3b3","strokeWidth":0.8},
       "encoding":{"x":{"datum":-0.15,"scale":{"domain":[-0.15,5.2],"nice":false,"zero":false,"range":[142,261]},
          "axis":{"orient":"bottom","offset":-28.8,"title":"Time (years) from TBI","values":[0,1,2,3,4,5],"format":"d","grid":true,"gridColor":"#ececec","tickSize":2,"labelFontSize":6,"labelPadding":1,"titleFontSize":6.5,"titlePadding":2,"zindex":1,"labelColor":"#333","titleColor":"#222"}},
        "x2":{"datum":5.2},
        "y":{"datum":79,"scale":{"domain":[79,101],"nice":false,"zero":false,"range":[105.2,35.5]},
          "axis":{"orient":"left","offset":-142,"title":"Survival probability (%)","values":[80,85,90,95,100],"format":"d","grid":true,"gridColor":"#ececec","tickSize":2,"labelFontSize":6,"labelPadding":1,"titleFontSize":6,"titlePadding":3,"zindex":1,"labelColor":"#333","titleColor":"#222"}},
        "y2":{"datum":101}}},
      {"transform":[{"filter":"datum.lo >= 79"}],"mark":{"type":"area","interpolate":"step-after","fillOpacity":0.3},
       "encoding":{"x":{"field":"t","type":"quantitative","title":"Time (years) from TBI"},"y":{"field":"lo","type":"quantitative","title":"Survival probability (%)"},"y2":{"field":"hi"},"fill":{"field":"g","type":"nominal","legend":null}}},
      {"mark":{"type":"line","interpolate":"step-after","strokeWidth":0.9},
       "encoding":{"x":{"field":"t","type":"quantitative","title":"Time (years) from TBI"},"y":{"field":"s","type":"quantitative","title":"Survival probability (%)"},"stroke":{"field":"g","type":"nominal","legend":null}}},
      {"transform":[{"filter":"datum.t > 0"}],"mark":{"type":"point","shape":"M-1,0L1,0M0,-1L0,1","filled":false,"size":5,"strokeWidth":0.5,"opacity":1},
       "encoding":{"x":{"field":"t","type":"quantitative","title":"Time (years) from TBI"},"y":{"field":"s","type":"quantitative","title":"Survival probability (%)"},"stroke":{"field":"g","type":"nominal","legend":null}}}
     ]}
   ],
   "resolve":{"scale":{"x":"independent","y":"independent"},"axis":{"x":"independent","y":"independent"}}},
  {"width":297,"height":60,"view":{"stroke":null},
   "data":{"name":"risk"},"transform":[{"filter":"datum.p == 'Y'"}],
   "title":{"text":"At-risk table","subtitle":"TBI severity","anchor":"start","frame":"group","dx":-80,"offset":8,"fontSize":11,"fontWeight":"bold","subtitleFontSize":11,"subtitleFontWeight":"normal","subtitleColor":"black","subtitlePadding":1},
   "mark":{"type":"text","fontSize":11,"color":"#222"},
   "encoding":{"x":{"field":"t","type":"quantitative","scale":{"domain":[-0.26,5.18],"nice":false,"zero":false},"axis":null},
    "y":{"field":"g","type":"nominal","scale":{"domain":["Mild","Mod","Indeterminate"],"padding":0,"range":[0,59]},
     "axis":{"title":null,"labelAlign":"left","labelPadding":80,"ticks":false,"tickSize":0,"domain":false,"grid":false,"labelFontSize":11,"labelColor":"#222","labelBaseline":"middle","labelLineHeight":13.5,"labelOffset":{"condition":{"test":"datum.value == 'Mod'","value":-13.5},"value":0},"labelExpr":"datum.label == 'Mod' ? ['Moderate/', 'Severe/', 'Penetrating'] : datum.label"}},
    "text":{"field":"n"}}},
  {"width":298,"height":60,"view":{"stroke":null},
   "data":{"name":"risk"},"transform":[{"filter":"datum.p == 'E'"}],
   "title":{"text":"At-risk table","subtitle":"TBI severity","anchor":"start","frame":"group","dx":-75.5,"offset":8,"fontSize":11,"fontWeight":"bold","subtitleFontSize":11,"subtitleFontWeight":"normal","subtitleColor":"black","subtitlePadding":1},
   "mark":{"type":"text","fontSize":11,"color":"#222"},
   "encoding":{"x":{"field":"t","type":"quantitative","scale":{"domain":[-0.26,5.18],"nice":false,"zero":false},"axis":null},
    "y":{"field":"g","type":"nominal","scale":{"domain":["Mild","Mod","Indeterminate"],"padding":0,"range":[1,59.5]},
     "axis":{"title":null,"labelAlign":"left","labelPadding":75.5,"ticks":false,"tickSize":0,"domain":false,"grid":false,"labelFontSize":11,"labelColor":"#222","labelBaseline":"middle","labelLineHeight":13.5,"labelOffset":{"condition":{"test":"datum.value == 'Mod'","value":-13.5},"value":0},"labelExpr":"datum.label == 'Mod' ? ['Moderate/', 'Severe/', 'Penetrating'] : datum.label"}},
    "text":{"field":"n"}}}
]
}
